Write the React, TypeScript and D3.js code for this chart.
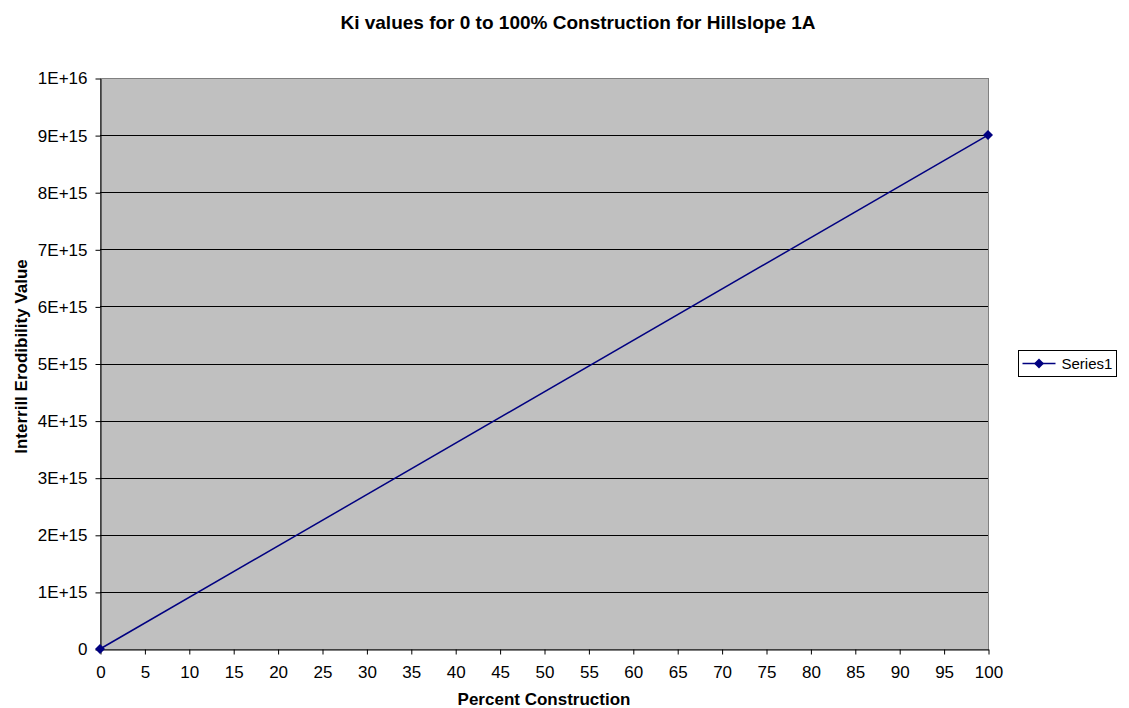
import React, { useEffect, useRef } from 'react';
import * as d3 from 'd3';

// Data
const percentConstruction = [0, 100];
const kiValues = [0, 9e15];
const xTicks = d3.range(0, 101, 5);
const yTicks = d3.range(0, 11).map((i) => i * 1e15);
const yTickLabels = ['0', '1E+15', '2E+15', '3E+15', '4E+15', '5E+15', '6E+15', '7E+15', '8E+15', '9E+15', '1E+16'];

const diamondPath = 'M0,-5L5,0L0,5L-5,0Z';

export default function App() {
  const svgRef = useRef<SVGSVGElement>(null);

  useEffect(() => {
    if (!svgRef.current) return;
    const width = 1129;
    const height = 708;
    d3.select(svgRef.current).selectAll('*').remove();

    const svg = d3.select(svgRef.current).attr('width', width).attr('height', height);
    const font = 'Arial, "Liberation Sans", sans-serif';

    const left = 100;
    const right = 988;
    const top = 78;
    const bottom = 649;

    const x = d3.scaleLinear().domain([0, 100]).range([left, right]);
    const y = d3.scaleLinear().domain([0, 1e16]).range([bottom, top]);

    // Plot area
    svg.append('rect')
      .attr('x', left + 0.5)
      .attr('y', top + 0.5)
      .attr('width', right - left)
      .attr('height', bottom - top)
      .attr('fill', '#c0c0c0')
      .attr('stroke', '#808080')
      .attr('stroke-width', 1);

    // Grid lines
    svg.append('g')
      .selectAll('line')
      .data(yTicks.slice(1, -1))
      .enter()
      .append('line')
      .attr('x1', left)
      .attr('x2', right)
      .attr('y1', (d) => Math.round(y(d)) + 0.5)
      .attr('y2', (d) => Math.round(y(d)) + 0.5)
      .attr('stroke', '#000')
      .attr('stroke-width', 1);

    // Y axis
    const yAxis = svg.append('g')
      .attr('transform', `translate(${left + 0.5},0.5)`)
      .call(
        d3.axisLeft(y)
          .tickValues(yTicks)
          .tickSize(5)
          .tickSizeOuter(0)
          .tickPadding(8)
          .tickFormat((d, i) => yTickLabels[i])
      );
    yAxis.select('.domain').attr('stroke', '#000');
    yAxis.selectAll('line').attr('stroke', '#000');
    yAxis.selectAll('text')
      .style('font-family', font)
      .style('font-size', '17px')
      .attr('fill', '#000');

    // X axis
    const xAxis = svg.append('g')
      .attr('transform', `translate(0.5,${bottom + 0.5})`)
      .call(
        d3.axisBottom(x)
          .tickValues(xTicks)
          .tickSize(5)
          .tickSizeOuter(0)
          .tickPadding(11)
      );
    xAxis.select('.domain').attr('stroke', '#000');
    xAxis.selectAll('line').attr('stroke', '#000');
    xAxis.selectAll('text')
      .style('font-family', font)
      .style('font-size', '17px')
      .attr('fill', '#000');

    // Series line
    const pts = percentConstruction.map((p, i) => [p, kiValues[i]] as [number, number]);
    const line = d3.line<[number, number]>()
      .x((d) => x(d[0]))
      .y((d) => y(d[1]));

    svg.append('path')
      .datum(pts)
      .attr('d', line)
      .attr('fill', 'none')
      .attr('stroke', '#000080')
      .attr('stroke-width', 1.5);

    svg.append('g')
      .selectAll('path')
      .data(pts)
      .enter()
      .append('path')
      .attr('d', diamondPath)
      .attr('transform', (d) => `translate(${x(d[0])},${y(d[1])})`)
      .attr('fill', '#000080');

    // Title
    svg.append('text')
      .attr('x', 578)
      .attr('y', 29)
      .attr('text-anchor', 'middle')
      .style('font-family', font)
      .style('font-size', '19px')
      .style('font-weight', 'bold')
      .text('Ki values for 0 to 100% Construction for Hillslope 1A');

    // Axis titles
    svg.append('text')
      .attr('x', 544)
      .attr('y', 705)
      .attr('text-anchor', 'middle')
      .style('font-family', font)
      .style('font-size', '17px')
      .style('font-weight', 'bold')
      .text('Percent Construction');

    svg.append('text')
      .attr('transform', `translate(27,${(top + bottom) / 2 - 7}) rotate(-90)`)
      .attr('text-anchor', 'middle')
      .style('font-family', font)
      .style('font-size', '17px')
      .style('font-weight', 'bold')
      .text('Interrill Erodibility Value');

    // Legend
    const lg = svg.append('g').attr('transform', 'translate(1018.5,350.5)');
    lg.append('rect')
      .attr('width', 98)
      .attr('height', 26)
      .attr('fill', '#fff')
      .attr('stroke', '#000');
    lg.append('line')
      .attr('x1', 4)
      .attr('x2', 37)
      .attr('y1', 13)
      .attr('y2', 13)
      .attr('stroke', '#000080')
      .attr('stroke-width', 1.5);
    lg.append('path')
      .attr('d', diamondPath)
      .attr('transform', 'translate(20.5,13)')
      .attr('fill', '#000080');
    lg.append('text')
      .attr('x', 43)
      .attr('y', 18.5)
      .style('font-family', font)
      .style('font-size', '15px')
      .text('Series1');
  }, []);

  return <svg ref={svgRef} style={{ position: 'absolute', left: 0, top: 0 }} />;
}
